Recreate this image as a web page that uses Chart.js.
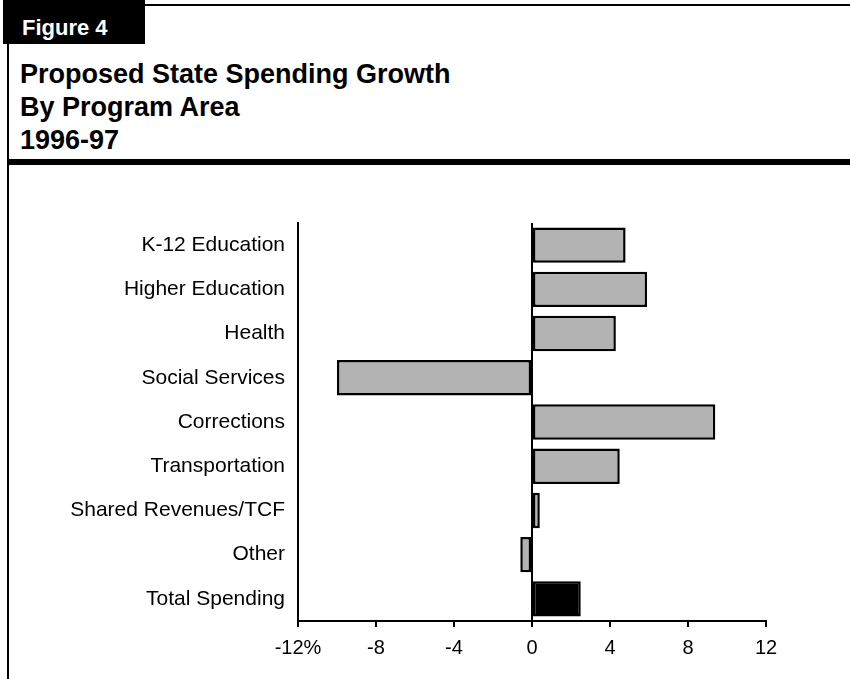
<!DOCTYPE html>
<html lang="en">

<head>
    <meta charset="UTF-8">
    <script src="https://cdn.jsdelivr.net/npm/chart.js"></script>
    <title>Figure 4</title>
    <style>
        body {
            margin: 0;
            width: 850px;
            height: 679px;
            position: relative;
            background: #ffffff;
            font-family: "Liberation Sans", Arial, sans-serif;
            overflow: hidden;
        }

        .topline { position: absolute; left: 8px; top: 4px; width: 842px; height: 2px; background: #000; }
        .leftline { position: absolute; left: 7px; top: 40px; width: 2px; height: 639px; background: #000; }
        .figbox { position: absolute; left: 3px; top: 0; width: 142px; height: 44px; background: #000; }
        .figlabel { position: absolute; left: 22px; top: 15px; color: #fff; font-weight: bold; font-size: 22px; line-height: 26px; }
        .title { position: absolute; left: 20px; top: 58px; font-weight: bold; font-size: 27px; line-height: 33px; color: #000; }
        .rule { position: absolute; left: 8px; top: 159px; width: 842px; height: 6px; background: #000; }
        #chartBox { position: absolute; left: 0; top: 170px; width: 850px; height: 509px; }
    </style>
</head>

<body>
    <div class="topline"></div>
    <div class="leftline"></div>
    <div class="figbox"></div>
    <div class="figlabel">Figure 4</div>
    <div class="title">Proposed State Spending Growth<br>By Program Area<br>1996-97</div>
    <div class="rule"></div>

    <div id="chartBox">
        <canvas id="growthChart"></canvas>
    </div>

    <script>
        // chart data
        const categories = ['K-12 Education', 'Higher Education', 'Health', 'Social Services', 'Corrections',
            'Transportation', 'Shared Revenues/TCF', 'Other', 'Total Spending'];
        const growth = [4.8, 5.9, 4.3, -10.0, 9.4, 4.5, 0.4, -0.6, 2.5];
        const xTicks = [-12, -8, -4, 0, 4, 8, 12];

        const fontFamily = '"Liberation Sans", Arial, sans-serif';

        const ctx = document.getElementById('growthChart').getContext('2d');
        const growthChart = new Chart(ctx, {
            type: 'bar',
            data: {
                labels: categories,
                datasets: [{
                    data: growth,
                    // last bar (total) is black
                    backgroundColor: categories.map((c, i) => i === categories.length - 1 ? '#000000' : '#b3b3b3'),
                    borderColor: '#000000',
                    borderWidth: 2.5,
                    borderSkipped: false,
                    categoryPercentage: 1,
                    barPercentage: 0.8
                }]
            },
            options: {
                indexAxis: 'y',
                responsive: true,
                maintainAspectRatio: false,
                animation: false,
                layout: {
                    padding: { left: 0, right: 84, top: 53, bottom: 0 }
                },
                plugins: {
                    legend: { display: false },
                    tooltip: { enabled: false }
                },
                scales: {
                    x: {
                        min: -12,
                        max: 12,
                        afterBuildTicks: scale => {
                            scale.ticks = xTicks.map(v => ({ value: v }));
                        },
                        afterFit: scale => {
                            scale.height = 58;
                        },
                        grid: {
                            color: c => c.tick && c.tick.value === 0 ? '#000000' : 'rgba(0,0,0,0)',
                            lineWidth: 2,
                            tickColor: '#000000',
                            tickLength: 6,
                            drawOnChartArea: true
                        },
                        border: { display: true, color: '#000000', width: 2 },
                        ticks: {
                            color: '#000000',
                            padding: 9,
                            maxRotation: 0,
                            font: { family: fontFamily, size: 20 },
                            callback: value => value === -12 ? '-12%' : value
                        }
                    },
                    y: {
                        afterFit: scale => {
                            scale.width = 298;
                        },
                        grid: { display: false },
                        border: { display: true, color: '#000000', width: 2 },
                        ticks: {
                            color: '#000000',
                            padding: 5,
                            font: { family: fontFamily, size: 21 }
                        }
                    }
                }
            }
        });
    </script>
</body>
</html>
